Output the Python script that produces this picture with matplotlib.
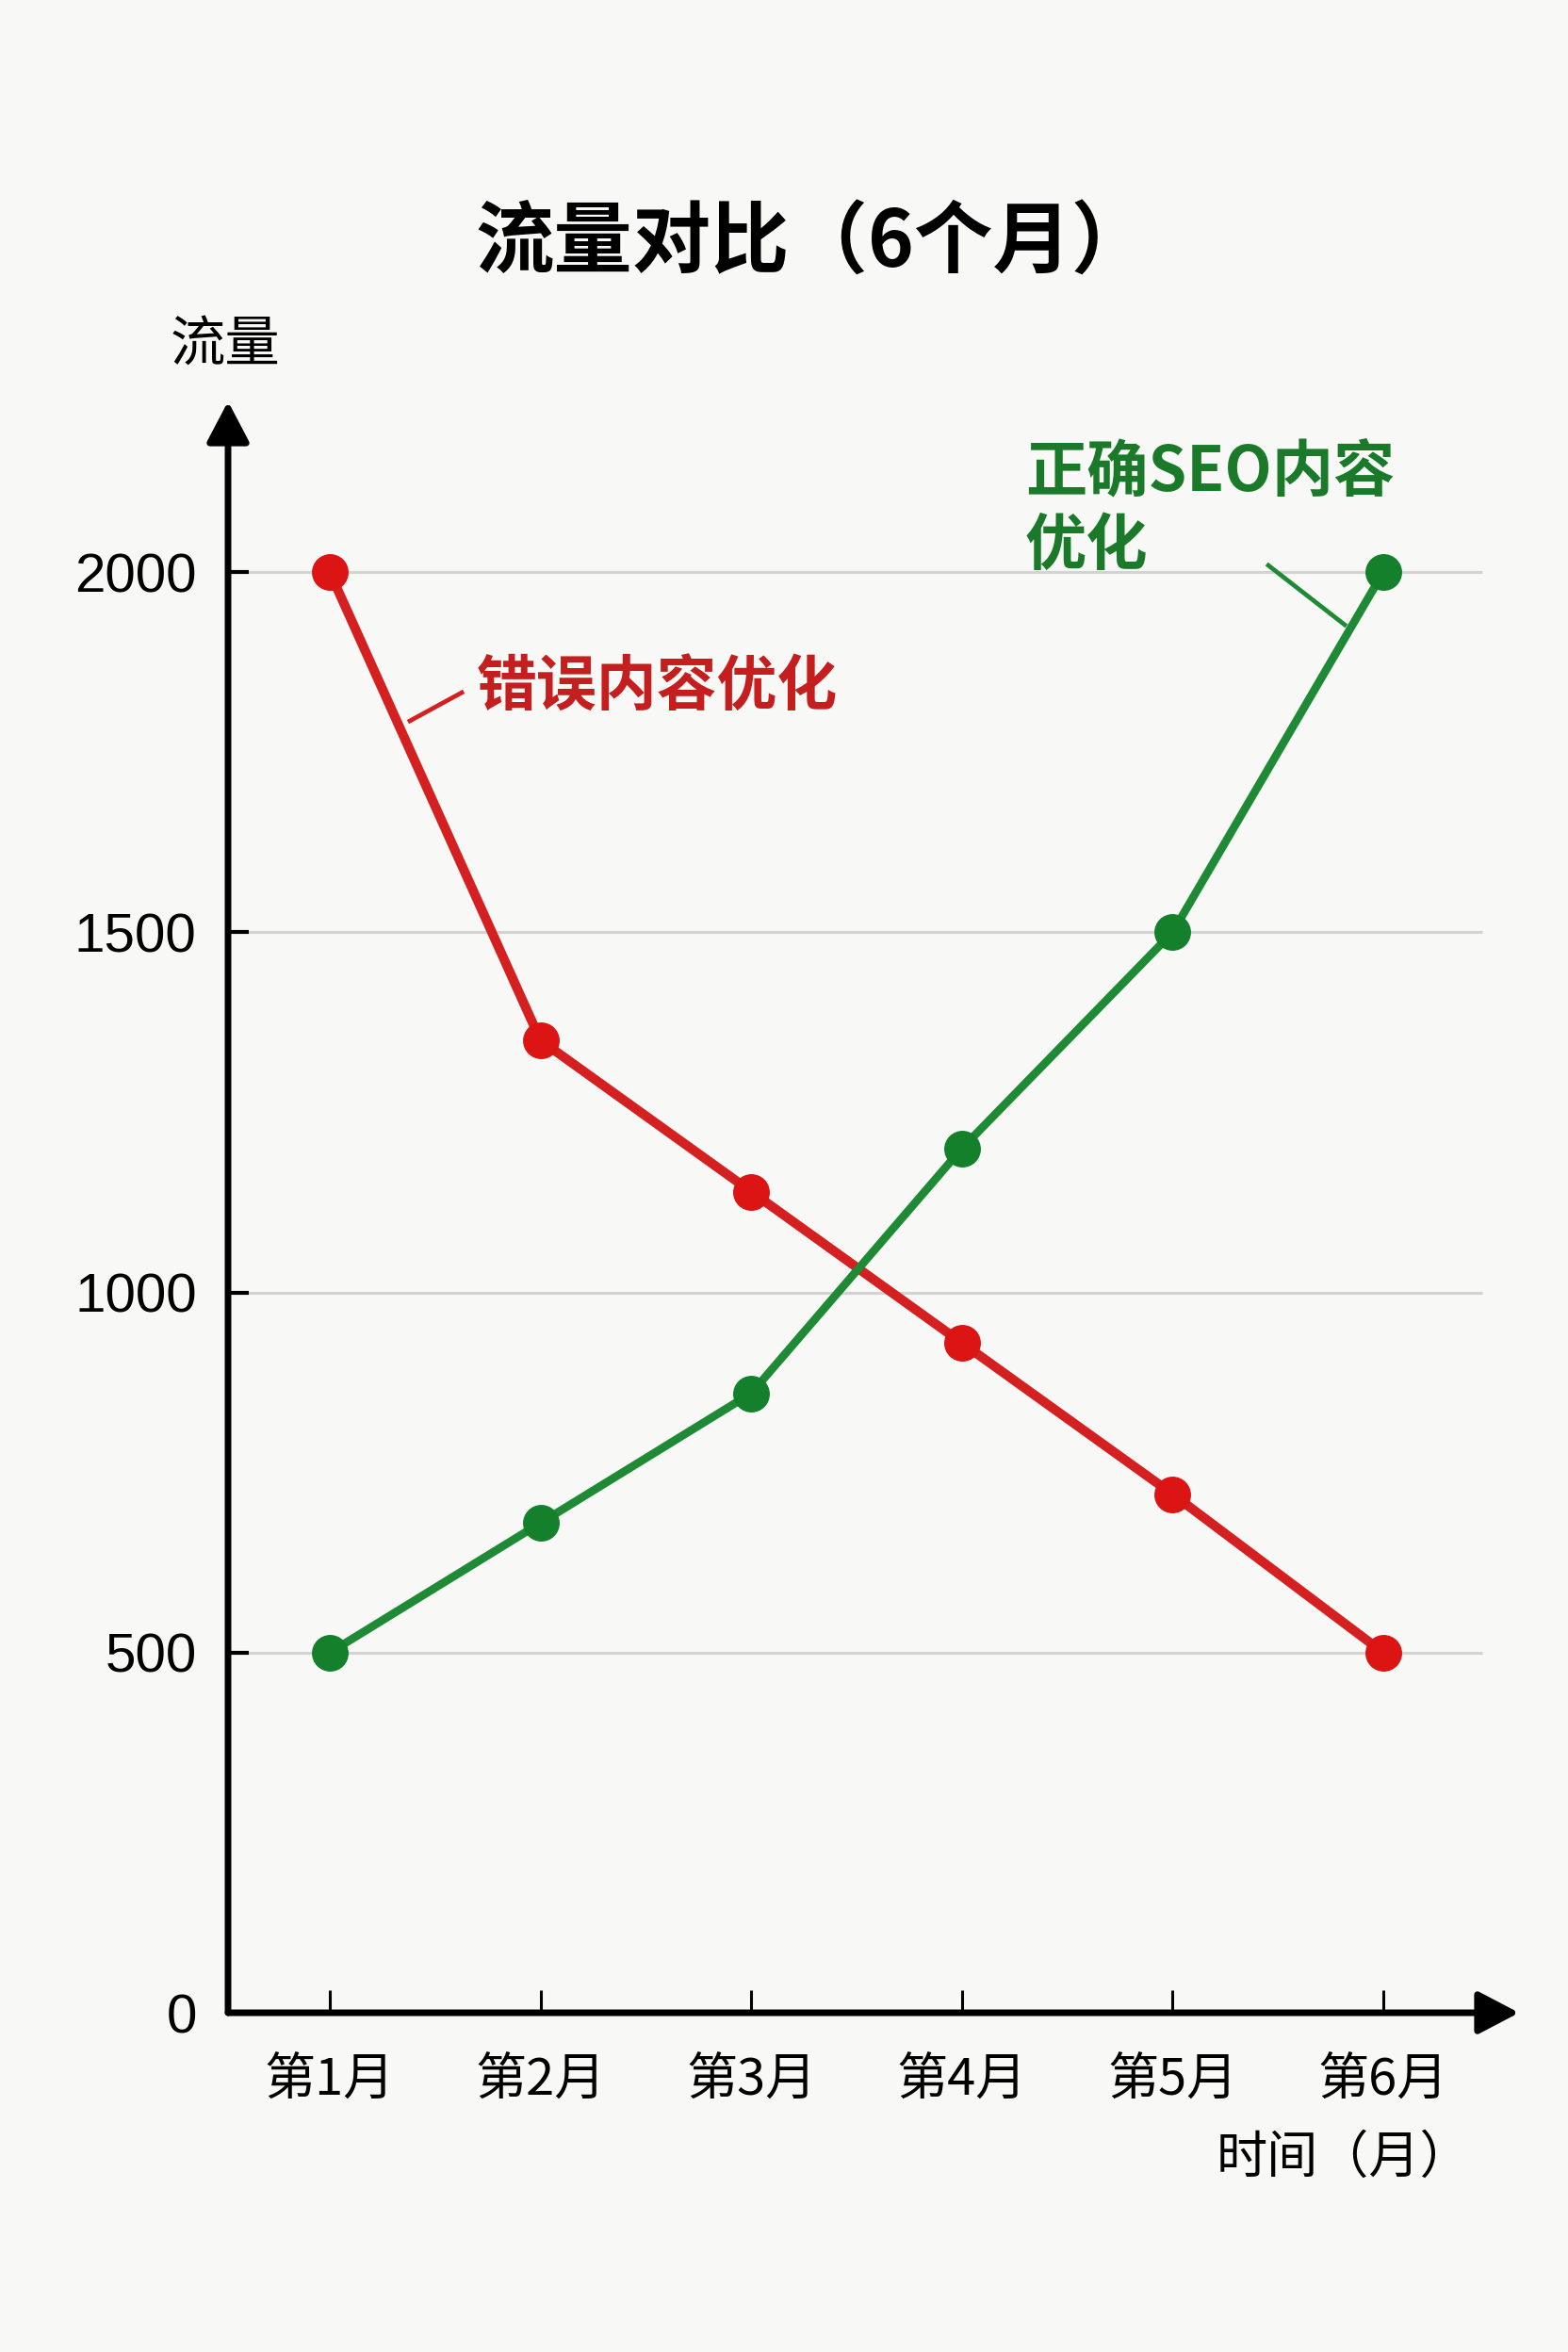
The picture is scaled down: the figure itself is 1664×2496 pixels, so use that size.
import matplotlib
matplotlib.use("Agg")
import matplotlib.pyplot as plt
from matplotlib.lines import Line2D

plt.rcParams['font.family'] = ['Noto Sans CJK SC', 'DejaVu Sans']

months = ["第1月", "第2月", "第3月", "第4月", "第5月", "第6月"]
wrong_seo = [2000, 1350, 1140, 930, 720, 500]
right_seo = [500, 680, 860, 1200, 1500, 2000]
y_ticks = [0, 500, 1000, 1500, 2000]
y_ticklabels = ["0", "500", "1000", "1500", "2000"]

W, H = 1664, 2496
BG = "#f8f8f6"
RED_LINE = "#d42020"
RED_MK = "#dc1414"
RED_TXT = "#c41e1e"
GRN_LINE = "#1f8a35"
GRN_MK = "#15802c"
GRN_TXT = "#1a7a2a"

fig = plt.figure(figsize=(W / 100, H / 100), dpi=100, facecolor=BG)


def fx(px):
    return px / W


def fy(py):
    return 1 - py / H


ax_left, ax_right, ax_bottom, ax_top = 242, 1612, 2136, 426
ax = fig.add_axes([fx(ax_left), fy(ax_bottom), (ax_right - ax_left) / W, (ax_bottom - ax_top) / H])
ax.set_facecolor(BG)

xs = list(range(1, len(months) + 1))
ax.set_xlim(0.517, 6.644)
ax.set_ylim(0, 2237)

# gridlines
for yv in y_ticks[1:]:
    ax.plot([0.517, 6.469], [yv, yv], color="#d3d3d3", lw=2.2, zorder=1, solid_capstyle="butt")

for s in ax.spines.values():
    s.set_visible(False)

# axis arrows
arrow_kw = dict(arrowstyle="-|>,head_length=0.8,head_width=0.42", color="black", lw=5,
                mutation_scale=33, shrinkA=0, shrinkB=0)
ax.annotate("", xy=(0, 1), xytext=(0, 0), xycoords="axes fraction", textcoords="axes fraction",
            arrowprops=arrow_kw, annotation_clip=False, zorder=5)
ax.annotate("", xy=(1, 0), xytext=(0, 0), xycoords="axes fraction", textcoords="axes fraction",
            arrowprops=arrow_kw, annotation_clip=False, zorder=5)

ax.plot(xs, wrong_seo, color=RED_LINE, lw=7.2, marker="o", markersize=27,
        markerfacecolor=RED_MK, markeredgecolor=RED_MK, zorder=3, solid_capstyle="round")
ax.plot(xs, right_seo, color=GRN_LINE, lw=6.2, marker="o", markersize=27,
        markerfacecolor=GRN_MK, markeredgecolor=GRN_MK, zorder=4, solid_capstyle="round")

ax.set_xticks(xs)
ax.set_xticklabels(months, fontsize=39)
ax.set_yticks(y_ticks)
ax.set_yticklabels(y_ticklabels, fontsize=42, family=['Liberation Sans', 'DejaVu Sans'])
ax.tick_params(axis="x", direction="in", length=17, width=2.2, pad=32, colors="black")
ax.tick_params(axis="y", direction="in", length=16, width=3, pad=24, colors="black")

# title and axis labels
fig.text(fx(862), fy(258), "流量对比（6个月）", fontsize=60, fontweight="bold",
         ha="center", va="center", color="black")
fig.text(fx(239), fy(366), "流量", fontsize=42, ha="center", va="center", color="black")
fig.text(fx(1561), fy(2290), "时间（月）", fontsize=39, ha="right", va="center", color="black")

# series annotations
fig.text(fx(506), fy(729), "错误内容优化", fontsize=46, fontweight="bold",
         ha="left", va="center", color=RED_TXT)
fig.add_artist(Line2D([fx(435), fx(490)], [fy(765), fy(735)], color=RED_LINE, lw=3.4,
                      transform=fig.transFigure))
fig.text(fx(1088), fy(540), "正确SEO内容\n优化", fontsize=47, fontweight="bold",
         ha="left", va="center", color=GRN_TXT, linespacing=1.22)
fig.add_artist(Line2D([fx(1346), fx(1427)], [fy(600), fy(663)], color=GRN_LINE, lw=3.4,
                      transform=fig.transFigure))

fig.savefig("out.png", dpi=100, facecolor=BG)
